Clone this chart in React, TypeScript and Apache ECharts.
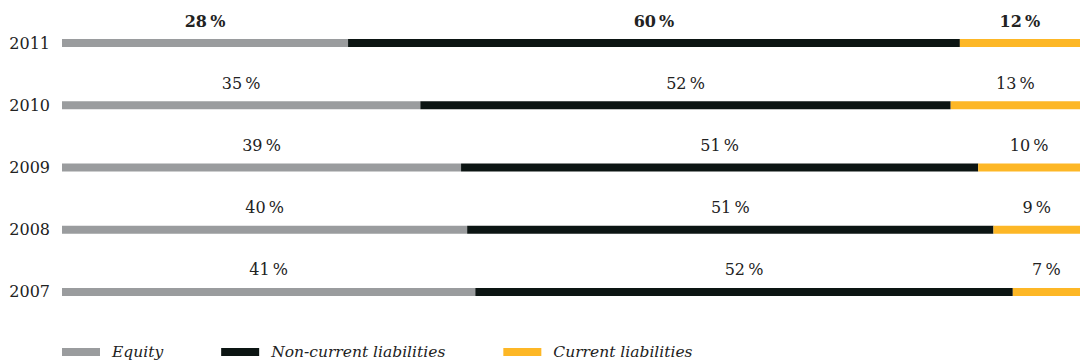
import React, { useEffect, useRef } from "react";
import * as echarts from "echarts";

const years = ["2007", "2008", "2009", "2010", "2011"];
// segment shares (bar lengths, % of total)
const equity = [40.6, 39.8, 39.2, 35.2, 28.1];
const nonCurrent = [52.8, 51.7, 50.8, 52.1, 60.1];
const current = [6.6, 8.5, 10.0, 12.7, 11.8];
// printed labels
const equityLabels = ["41", "40", "39", "35", "28"];
const nonCurrentLabels = ["52", "51", "51", "52", "60"];
const currentLabels = ["7", "9", "10", "13", "12"];
const seriesNames = ["Equity", "Non-current liabilities", "Current liabilities"];
const colors = ["#9a9c9e", "#0c1513", "#fdb726"];

const FONT = "'DejaVu Serif', serif";

export default function App() {
  const ref = useRef<HTMLDivElement>(null);
  useEffect(() => {
    const chart = echarts.init(ref.current!, undefined, { renderer: "svg" });
    const mk = (name: string, vals: number[], labels: string[], color: string) => ({
      name,
      type: "bar",
      stack: "total",
      barWidth: 8,
      itemStyle: { color },
      data: vals.map((v, i) => ({
        value: v,
        label: i === years.length - 1 ? { fontWeight: "bold" } : undefined,
      })),
      label: {
        show: true,
        position: "top",
        distance: 10,
        formatter: (p: any) => labels[p.dataIndex] + "\u2009%",
        color: "#222",
        fontFamily: FONT,
        fontSize: 16,
      },
    });
    chart.setOption({
      animation: false,
      grid: { left: 62, right: 0, top: 12, bottom: 39, containLabel: false },
      xAxis: { type: "value", min: 0, max: 100, show: false },
      yAxis: {
        type: "category",
        data: years,
        axisLine: { show: false },
        axisTick: { show: false },
        axisLabel: { color: "#222", fontFamily: FONT, fontSize: 16, margin: 12 },
      },
      legend: {
        left: 62,
        top: 344,
        padding: 0,
        itemWidth: 38,
        itemHeight: 8,
        itemGap: 58,
        icon: "rect",
        data: seriesNames,
        textStyle: {
          fontFamily: FONT,
          fontStyle: "italic",
          fontSize: 15.5,
          color: "#222",
          padding: [0, 0, 0, 7],
        },
      },
      series: [
        mk(seriesNames[0], equity, equityLabels, colors[0]),
        mk(seriesNames[1], nonCurrent, nonCurrentLabels, colors[1]),
        mk(seriesNames[2], current, currentLabels, colors[2]),
      ],
    });
    return () => chart.dispose();
  }, []);
  return (
    <div
      ref={ref}
      style={{ position: "fixed", left: 0, top: 0, width: 1080, height: 362, background: "#fff" }}
    />
  );
}
